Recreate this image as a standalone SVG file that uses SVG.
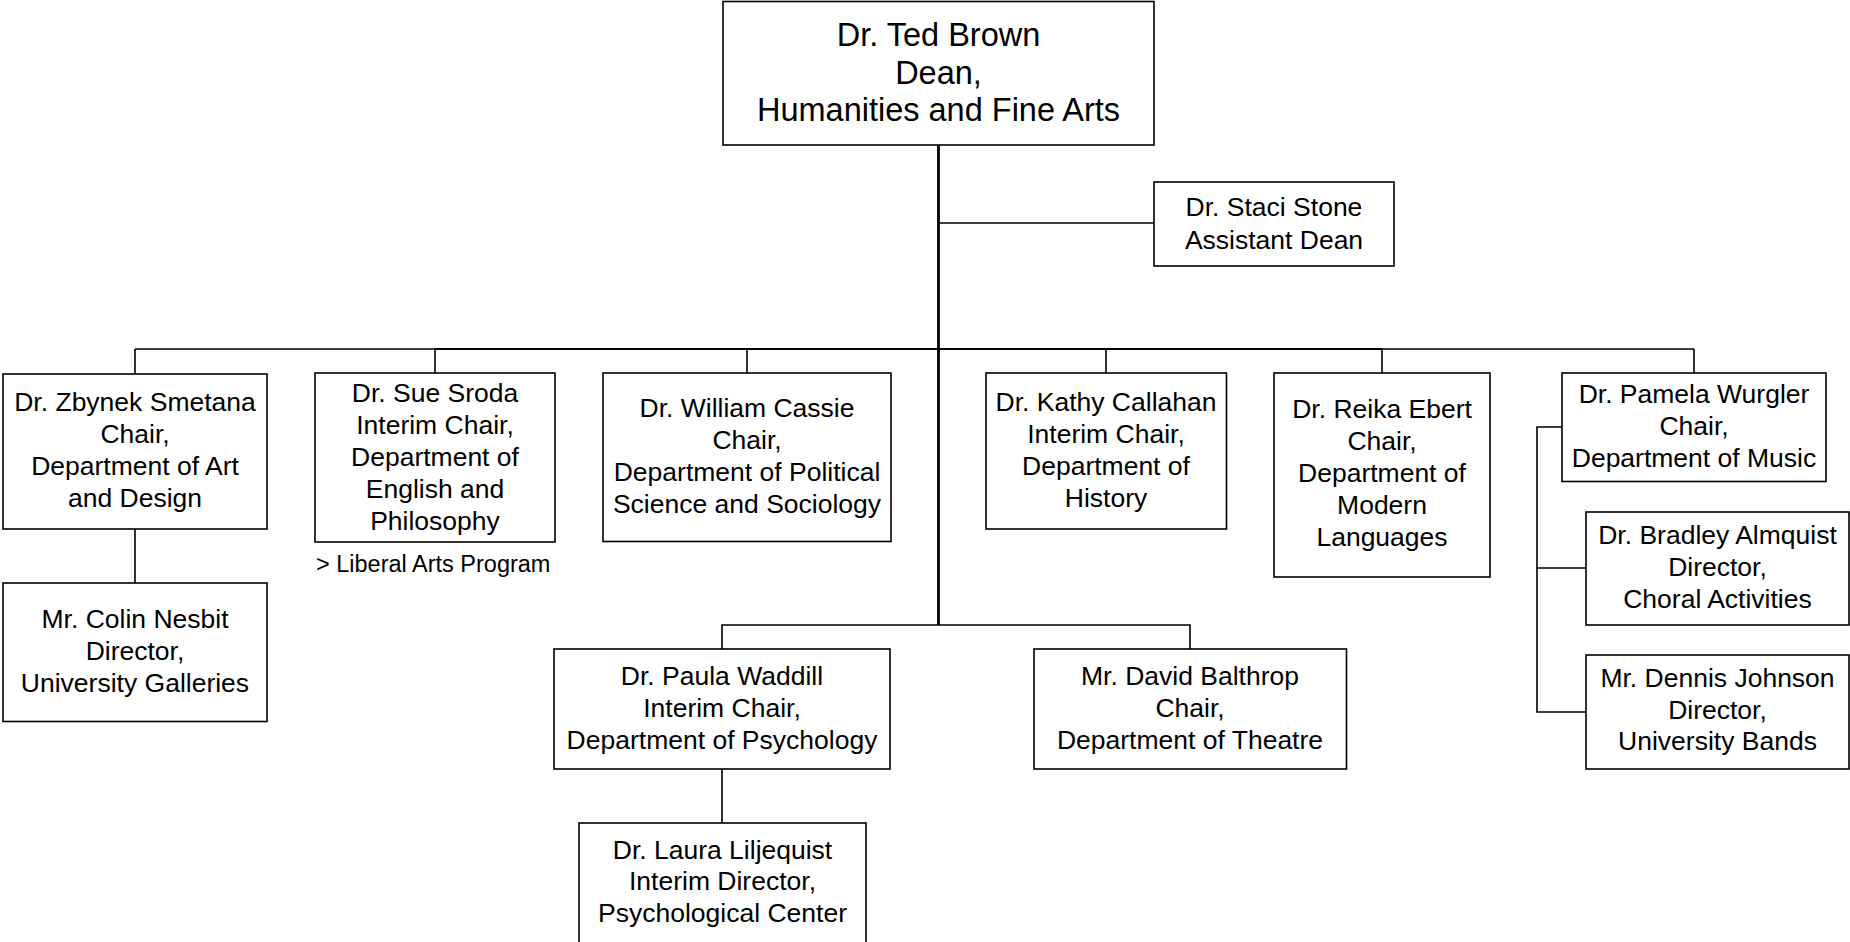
<svg xmlns="http://www.w3.org/2000/svg" width="1850" height="942" viewBox="0 0 1850 942">
<style>
.box{fill:#fff;stroke:#000;stroke-width:1.6}
.t{font-family:"Liberation Sans",Arial,sans-serif;font-size:26.5px;fill:#000;text-anchor:middle}
.big{font-size:32.5px}
.note{font-family:"Liberation Sans",Arial,sans-serif;font-size:23.5px;fill:#000}
.ln{fill:none;stroke:#000;stroke-width:1.6}
.trunk{fill:none;stroke:#000;stroke-width:2.8}
</style>
<rect width="1850" height="942" fill="#fff"/>
<g id="connectors">
<path class="trunk" d="M938.5,145 V625"/>
<path class="ln" d="M938.5,223 H1154"/>
<path class="ln" d="M135,349 H1694"/>
<path class="ln" style="stroke-width:2.2" d="M435,349 H1382"/>
<path class="ln" d="M135,349 V374 M435,349 V373 M747,349 V373 M1106,349 V373 M1382,349 V373 M1694,349 V373"/>
<path class="ln" d="M135,529 V583"/>
<path class="ln" d="M722,649 V625 H1190 V649"/>
<path class="ln" d="M722,769 V823"/>
<path class="ln" d="M1562,427 H1537 V712 H1586 M1537,568 H1586"/>
</g>
<g id="dean"><rect class="box" x="723" y="1.5" width="431" height="143.5"/>
<text class="t big" x="938.5" y="46">Dr. Ted Brown</text>
<text class="t big" x="938.5" y="83.5">Dean,</text>
<text class="t big" x="938.5" y="120.5">Humanities and Fine Arts</text></g>
<g id="stone"><rect class="box" x="1154" y="182" width="240" height="84"/>
<text class="t" x="1274" y="215.5">Dr. Staci Stone</text>
<text class="t" x="1274" y="248.5">Assistant Dean</text></g>
<g id="smetana"><rect class="box" x="3" y="374" width="264" height="155"/>
<text class="t" x="135" y="411">Dr. Zbynek Smetana</text>
<text class="t" x="135" y="443">Chair,</text>
<text class="t" x="135" y="475">Department of Art</text>
<text class="t" x="135" y="507">and Design</text></g>
<g id="nesbit"><rect class="box" x="3" y="583" width="264" height="138.5"/>
<text class="t" x="135" y="628">Mr. Colin Nesbit</text>
<text class="t" x="135" y="660">Director,</text>
<text class="t" x="135" y="692">University Galleries</text></g>
<g id="sroda"><rect class="box" x="315" y="373" width="240" height="169"/>
<text class="t" x="435" y="401.5">Dr. Sue Sroda</text>
<text class="t" x="435" y="433.5">Interim Chair,</text>
<text class="t" x="435" y="465.5">Department of</text>
<text class="t" x="435" y="497.5">English and</text>
<text class="t" x="435" y="529.5">Philosophy</text></g>
<g id="liberal-arts"><text class="note" x="316" y="572">&gt; Liberal Arts Program</text></g>
<g id="cassie"><rect class="box" x="603" y="373" width="288" height="168.5"/>
<text class="t" x="747" y="417">Dr. William Cassie</text>
<text class="t" x="747" y="449">Chair,</text>
<text class="t" x="747" y="481">Department of Political</text>
<text class="t" x="747" y="513">Science and Sociology</text></g>
<g id="callahan"><rect class="box" x="986" y="373" width="240.5" height="156"/>
<text class="t" x="1106" y="411">Dr. Kathy Callahan</text>
<text class="t" x="1106" y="443">Interim Chair,</text>
<text class="t" x="1106" y="475">Department of</text>
<text class="t" x="1106" y="507">History</text></g>
<g id="ebert"><rect class="box" x="1274" y="373" width="216" height="204"/>
<text class="t" x="1382" y="418">Dr. Reika Ebert</text>
<text class="t" x="1382" y="450">Chair,</text>
<text class="t" x="1382" y="482">Department of</text>
<text class="t" x="1382" y="514">Modern</text>
<text class="t" x="1382" y="546">Languages</text></g>
<g id="wurgler"><rect class="box" x="1562" y="373" width="264" height="108.5"/>
<text class="t" x="1694" y="402.5">Dr. Pamela Wurgler</text>
<text class="t" x="1694" y="434.5">Chair,</text>
<text class="t" x="1694" y="466.5">Department of Music</text></g>
<g id="almquist"><rect class="box" x="1586" y="512" width="263" height="113"/>
<text class="t" x="1717.5" y="544">Dr. Bradley Almquist</text>
<text class="t" x="1717.5" y="576">Director,</text>
<text class="t" x="1717.5" y="608">Choral Activities</text></g>
<g id="johnson"><rect class="box" x="1586" y="655" width="263" height="114"/>
<text class="t" x="1717.5" y="687">Mr. Dennis Johnson</text>
<text class="t" x="1717.5" y="718.5">Director,</text>
<text class="t" x="1717.5" y="750">University Bands</text></g>
<g id="waddill"><rect class="box" x="554" y="649" width="336" height="120"/>
<text class="t" x="722" y="685">Dr. Paula Waddill</text>
<text class="t" x="722" y="717">Interim Chair,</text>
<text class="t" x="722" y="749">Department of Psychology</text></g>
<g id="balthrop"><rect class="box" x="1034" y="649" width="312.5" height="120"/>
<text class="t" x="1190" y="685">Mr. David Balthrop</text>
<text class="t" x="1190" y="717">Chair,</text>
<text class="t" x="1190" y="749">Department of Theatre</text></g>
<g id="liljequist"><rect class="box" x="579" y="823" width="287" height="122"/>
<text class="t" x="722.5" y="858.5">Dr. Laura Liljequist</text>
<text class="t" x="722.5" y="890">Interim Director,</text>
<text class="t" x="722.5" y="922">Psychological Center</text></g>
</svg>
